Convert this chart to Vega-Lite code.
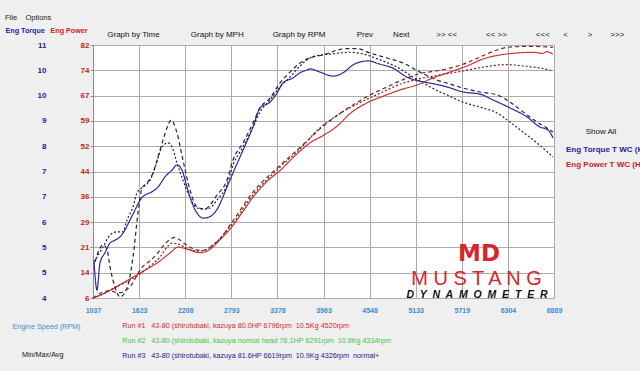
{
  "$schema": "https://vega.github.io/schema/vega-lite/v6.json",
  "width": 461,
  "height": 253,
  "autosize": {"type": "none"},
  "padding": {"left": 93, "top": 45, "right": 86, "bottom": 73},
  "background": "#efefef",
  "config": {"font": "Liberation Sans", "view": {"fill": "#ffffff", "stroke": "#9c9c9c"}, "axis": {"labelOverlap": false}},
  "title": {
    "text": "File\u00a0\u00a0\u00a0\u00a0Options",
    "subtitle": "\u200b\u00a0\u00a0\u00a0\u00a0\u00a0\u00a0\u00a0\u00a0\u00a0\u00a0\u00a0\u00a0\u00a0\u00a0\u00a0\u00a0\u00a0\u00a0\u00a0\u00a0\u00a0\u00a0\u00a0\u00a0\u00a0\u00a0\u00a0\u00a0\u00a0\u00a0\u00a0\u00a0\u00a0\u00a0\u00a0\u00a0\u00a0\u00a0\u00a0\u00a0\u00a0\u00a0\u00a0\u00a0\u00a0\u00a0Graph by Time\u00a0\u00a0\u00a0\u00a0\u00a0\u00a0\u00a0\u00a0\u00a0\u00a0\u00a0\u00a0\u00a0\u00a0Graph by MPH\u00a0\u00a0\u00a0\u00a0\u00a0\u00a0\u00a0\u00a0\u00a0\u00a0\u00a0\u00a0\u00a0Graph by RPM\u00a0\u00a0\u00a0\u00a0\u00a0\u00a0\u00a0\u00a0\u00a0\u00a0\u00a0\u00a0\u00a0\u00a0Prev\u00a0\u00a0\u00a0\u00a0\u00a0\u00a0\u00a0\u00a0\u00a0Next\u00a0\u00a0\u00a0\u00a0\u00a0\u00a0\u00a0\u00a0\u00a0\u00a0\u00a0\u00a0>> <<\u00a0\u00a0\u00a0\u00a0\u00a0\u00a0\u00a0\u00a0\u00a0\u00a0\u00a0\u00a0\u00a0<< >>\u00a0\u00a0\u00a0\u00a0\u00a0\u00a0\u00a0\u00a0\u00a0\u00a0\u00a0\u00a0\u00a0<<<\u00a0\u00a0\u00a0\u00a0\u00a0\u00a0<\u00a0\u00a0\u00a0\u00a0\u00a0\u00a0\u00a0\u00a0\u00a0>\u00a0\u00a0\u00a0\u00a0\u00a0\u00a0\u00a0\u00a0>>>",
    "anchor": "start",
    "frame": "group",
    "dx": -88,
    "dy": 13,
    "offset": 0,
    "fontSize": 7.5,
    "fontWeight": "normal",
    "color": "#222222",
    "subtitleFontSize": 8,
    "subtitleColor": "#111111",
    "subtitlePadding": 10
  },
  "datasets": {
    "torque": [
      {"run":"Run #1","rpm":1050,"v":5.00},{"run":"Run #1","rpm":1088,"v":4.22},{"run":"Run #1","rpm":1126,"v":4.97},{"run":"Run #1","rpm":1189,"v":5.25},{"run":"Run #1","rpm":1253,"v":5.52},{"run":"Run #1","rpm":1316,"v":5.60},{"run":"Run #1","rpm":1380,"v":5.69},{"run":"Run #1","rpm":1443,"v":5.88},{"run":"Run #1","rpm":1507,"v":6.16},{"run":"Run #1","rpm":1570,"v":6.43},{"run":"Run #1","rpm":1634,"v":6.71},{"run":"Run #1","rpm":1697,"v":6.85},{"run":"Run #1","rpm":1761,"v":6.91},{"run":"Run #1","rpm":1862,"v":7.07},{"run":"Run #1","rpm":1951,"v":7.35},{"run":"Run #1","rpm":2040,"v":7.54},{"run":"Run #1","rpm":2103,"v":7.68},{"run":"Run #1","rpm":2167,"v":7.54},{"run":"Run #1","rpm":2230,"v":7.07},{"run":"Run #1","rpm":2294,"v":6.63},{"run":"Run #1","rpm":2357,"v":6.35},{"run":"Run #1","rpm":2433,"v":6.21},{"run":"Run #1","rpm":2522,"v":6.25},{"run":"Run #1","rpm":2611,"v":6.45},{"run":"Run #1","rpm":2738,"v":7.07},{"run":"Run #1","rpm":2814,"v":7.46},{"run":"Run #1","rpm":2941,"v":8.09},{"run":"Run #1","rpm":3068,"v":8.73},{"run":"Run #1","rpm":3157,"v":9.26},{"run":"Run #1","rpm":3284,"v":9.42},{"run":"Run #1","rpm":3373,"v":9.67},{"run":"Run #1","rpm":3449,"v":9.95},{"run":"Run #1","rpm":3576,"v":10.09},{"run":"Run #1","rpm":3665,"v":10.23},{"run":"Run #1","rpm":3754,"v":10.31},{"run":"Run #1","rpm":3792,"v":10.34},{"run":"Run #1","rpm":3919,"v":10.25},{"run":"Run #1","rpm":4084,"v":10.14},{"run":"Run #1","rpm":4211,"v":10.23},{"run":"Run #1","rpm":4338,"v":10.45},{"run":"Run #1","rpm":4427,"v":10.53},{"run":"Run #1","rpm":4528,"v":10.56},{"run":"Run #1","rpm":4680,"v":10.47},{"run":"Run #1","rpm":4845,"v":10.36},{"run":"Run #1","rpm":5023,"v":10.11},{"run":"Run #1","rpm":5226,"v":9.98},{"run":"Run #1","rpm":5378,"v":9.92},{"run":"Run #1","rpm":5530,"v":9.84},{"run":"Run #1","rpm":5734,"v":9.70},{"run":"Run #1","rpm":5950,"v":9.64},{"run":"Run #1","rpm":6115,"v":9.48},{"run":"Run #1","rpm":6330,"v":9.26},{"run":"Run #1","rpm":6546,"v":9.01},{"run":"Run #1","rpm":6711,"v":8.73},{"run":"Run #1","rpm":6813,"v":8.65},{"run":"Run #1","rpm":6876,"v":8.43},
      {"run":"Run #2","rpm":1050,"v":5.00},{"run":"Run #2","rpm":1164,"v":5.41},{"run":"Run #2","rpm":1253,"v":5.74},{"run":"Run #2","rpm":1342,"v":5.83},{"run":"Run #2","rpm":1418,"v":5.83},{"run":"Run #2","rpm":1469,"v":6.16},{"run":"Run #2","rpm":1545,"v":6.52},{"run":"Run #2","rpm":1596,"v":6.91},{"run":"Run #2","rpm":1672,"v":7.07},{"run":"Run #2","rpm":1761,"v":7.26},{"run":"Run #2","rpm":1824,"v":7.60},{"run":"Run #2","rpm":1913,"v":8.18},{"run":"Run #2","rpm":1989,"v":8.29},{"run":"Run #2","rpm":2040,"v":8.18},{"run":"Run #2","rpm":2103,"v":7.74},{"run":"Run #2","rpm":2179,"v":7.26},{"run":"Run #2","rpm":2268,"v":6.79},{"run":"Run #2","rpm":2357,"v":6.49},{"run":"Run #2","rpm":2459,"v":6.46},{"run":"Run #2","rpm":2522,"v":6.49},{"run":"Run #2","rpm":2611,"v":6.71},{"run":"Run #2","rpm":2738,"v":7.13},{"run":"Run #2","rpm":2814,"v":7.68},{"run":"Run #2","rpm":2941,"v":8.18},{"run":"Run #2","rpm":3068,"v":8.73},{"run":"Run #2","rpm":3157,"v":9.15},{"run":"Run #2","rpm":3284,"v":9.48},{"run":"Run #2","rpm":3411,"v":9.84},{"run":"Run #2","rpm":3538,"v":10.11},{"run":"Run #2","rpm":3665,"v":10.42},{"run":"Run #2","rpm":3792,"v":10.64},{"run":"Run #2","rpm":3919,"v":10.72},{"run":"Run #2","rpm":4046,"v":10.75},{"run":"Run #2","rpm":4173,"v":10.78},{"run":"Run #2","rpm":4300,"v":10.80},{"run":"Run #2","rpm":4465,"v":10.75},{"run":"Run #2","rpm":4680,"v":10.59},{"run":"Run #2","rpm":4896,"v":10.39},{"run":"Run #2","rpm":5099,"v":10.11},{"run":"Run #2","rpm":5277,"v":9.89},{"run":"Run #2","rpm":5442,"v":9.70},{"run":"Run #2","rpm":5530,"v":9.62},{"run":"Run #2","rpm":5734,"v":9.42},{"run":"Run #2","rpm":5950,"v":9.28},{"run":"Run #2","rpm":6165,"v":9.12},{"run":"Run #2","rpm":6330,"v":8.87},{"run":"Run #2","rpm":6495,"v":8.59},{"run":"Run #2","rpm":6673,"v":8.29},{"run":"Run #2","rpm":6876,"v":7.90},
      {"run":"Run #3","rpm":1062,"v":5.00},{"run":"Run #3","rpm":1164,"v":5.47},{"run":"Run #3","rpm":1215,"v":5.33},{"run":"Run #3","rpm":1253,"v":4.86},{"run":"Run #3","rpm":1316,"v":4.30},{"run":"Run #3","rpm":1380,"v":4.03},{"run":"Run #3","rpm":1469,"v":4.28},{"run":"Run #3","rpm":1545,"v":5.13},{"run":"Run #3","rpm":1608,"v":6.35},{"run":"Run #3","rpm":1659,"v":7.04},{"run":"Run #3","rpm":1722,"v":7.18},{"run":"Run #3","rpm":1799,"v":7.46},{"run":"Run #3","rpm":1862,"v":7.90},{"run":"Run #3","rpm":1926,"v":8.37},{"run":"Run #3","rpm":1976,"v":8.70},{"run":"Run #3","rpm":2027,"v":8.92},{"run":"Run #3","rpm":2103,"v":8.57},{"run":"Run #3","rpm":2179,"v":7.82},{"run":"Run #3","rpm":2268,"v":6.99},{"run":"Run #3","rpm":2357,"v":6.52},{"run":"Run #3","rpm":2459,"v":6.46},{"run":"Run #3","rpm":2522,"v":6.57},{"run":"Run #3","rpm":2611,"v":6.85},{"run":"Run #3","rpm":2738,"v":7.26},{"run":"Run #3","rpm":2814,"v":7.82},{"run":"Run #3","rpm":2941,"v":8.29},{"run":"Run #3","rpm":3068,"v":8.84},{"run":"Run #3","rpm":3157,"v":9.26},{"run":"Run #3","rpm":3284,"v":9.53},{"run":"Run #3","rpm":3411,"v":9.95},{"run":"Run #3","rpm":3538,"v":10.25},{"run":"Run #3","rpm":3665,"v":10.50},{"run":"Run #3","rpm":3830,"v":10.67},{"run":"Run #3","rpm":3957,"v":10.72},{"run":"Run #3","rpm":4109,"v":10.84},{"run":"Run #3","rpm":4261,"v":10.90},{"run":"Run #3","rpm":4388,"v":10.90},{"run":"Run #3","rpm":4553,"v":10.78},{"run":"Run #3","rpm":4769,"v":10.64},{"run":"Run #3","rpm":4972,"v":10.50},{"run":"Run #3","rpm":5188,"v":10.25},{"run":"Run #3","rpm":5404,"v":10.03},{"run":"Run #3","rpm":5569,"v":9.92},{"run":"Run #3","rpm":5734,"v":9.81},{"run":"Run #3","rpm":5950,"v":9.70},{"run":"Run #3","rpm":6165,"v":9.62},{"run":"Run #3","rpm":6330,"v":9.42},{"run":"Run #3","rpm":6495,"v":9.15},{"run":"Run #3","rpm":6673,"v":8.87},{"run":"Run #3","rpm":6800,"v":8.70},{"run":"Run #3","rpm":6876,"v":8.59}
    ],
    "power": [
      {"run":"Run #1","rpm":1037,"v":6.0},{"run":"Run #1","rpm":1215,"v":7.8},{"run":"Run #1","rpm":1418,"v":10.5},{"run":"Run #1","rpm":1634,"v":13.5},{"run":"Run #1","rpm":1849,"v":16.5},{"run":"Run #1","rpm":2014,"v":19.5},{"run":"Run #1","rpm":2116,"v":21.3},{"run":"Run #1","rpm":2230,"v":20.7},{"run":"Run #1","rpm":2395,"v":19.6},{"run":"Run #1","rpm":2522,"v":20.6},{"run":"Run #1","rpm":2611,"v":22.6},{"run":"Run #1","rpm":2814,"v":27.8},{"run":"Run #1","rpm":2941,"v":32.0},{"run":"Run #1","rpm":3068,"v":36.3},{"run":"Run #1","rpm":3246,"v":41.0},{"run":"Run #1","rpm":3411,"v":44.3},{"run":"Run #1","rpm":3627,"v":49.3},{"run":"Run #1","rpm":3792,"v":52.6},{"run":"Run #1","rpm":3957,"v":54.8},{"run":"Run #1","rpm":4135,"v":57.6},{"run":"Run #1","rpm":4300,"v":61.4},{"run":"Run #1","rpm":4515,"v":64.6},{"run":"Run #1","rpm":4718,"v":66.6},{"run":"Run #1","rpm":4934,"v":68.5},{"run":"Run #1","rpm":5150,"v":70.0},{"run":"Run #1","rpm":5353,"v":72.1},{"run":"Run #1","rpm":5569,"v":73.9},{"run":"Run #1","rpm":5785,"v":75.7},{"run":"Run #1","rpm":5988,"v":77.8},{"run":"Run #1","rpm":6204,"v":79.0},{"run":"Run #1","rpm":6419,"v":79.6},{"run":"Run #1","rpm":6622,"v":79.8},{"run":"Run #1","rpm":6749,"v":79.5},{"run":"Run #1","rpm":6796,"v":80.0},{"run":"Run #1","rpm":6876,"v":79.2},
      {"run":"Run #2","rpm":1037,"v":6.0},{"run":"Run #2","rpm":1164,"v":7.2},{"run":"Run #2","rpm":1253,"v":8.4},{"run":"Run #2","rpm":1380,"v":9.9},{"run":"Run #2","rpm":1507,"v":11.4},{"run":"Run #2","rpm":1634,"v":13.2},{"run":"Run #2","rpm":1761,"v":15.6},{"run":"Run #2","rpm":1888,"v":18.3},{"run":"Run #2","rpm":1989,"v":21.6},{"run":"Run #2","rpm":2040,"v":22.5},{"run":"Run #2","rpm":2116,"v":22.2},{"run":"Run #2","rpm":2230,"v":21.0},{"run":"Run #2","rpm":2357,"v":20.1},{"run":"Run #2","rpm":2459,"v":20.4},{"run":"Run #2","rpm":2586,"v":22.5},{"run":"Run #2","rpm":2814,"v":28.5},{"run":"Run #2","rpm":3068,"v":37.0},{"run":"Run #2","rpm":3411,"v":45.3},{"run":"Run #2","rpm":3665,"v":50.8},{"run":"Run #2","rpm":3919,"v":57.1},{"run":"Run #2","rpm":4173,"v":61.4},{"run":"Run #2","rpm":4427,"v":64.7},{"run":"Run #2","rpm":4680,"v":67.5},{"run":"Run #2","rpm":4934,"v":70.2},{"run":"Run #2","rpm":5188,"v":71.9},{"run":"Run #2","rpm":5442,"v":73.0},{"run":"Run #2","rpm":5734,"v":74.2},{"run":"Run #2","rpm":5950,"v":75.2},{"run":"Run #2","rpm":6292,"v":76.1},{"run":"Run #2","rpm":6495,"v":75.7},{"run":"Run #2","rpm":6711,"v":75.1},{"run":"Run #2","rpm":6876,"v":74.2},
      {"run":"Run #3","rpm":1037,"v":6.0},{"run":"Run #3","rpm":1164,"v":7.8},{"run":"Run #3","rpm":1253,"v":8.2},{"run":"Run #3","rpm":1316,"v":7.8},{"run":"Run #3","rpm":1380,"v":7.6},{"run":"Run #3","rpm":1469,"v":8.6},{"run":"Run #3","rpm":1545,"v":10.6},{"run":"Run #3","rpm":1608,"v":13.4},{"run":"Run #3","rpm":1672,"v":15.5},{"run":"Run #3","rpm":1761,"v":17.2},{"run":"Run #3","rpm":1849,"v":19.2},{"run":"Run #3","rpm":1926,"v":21.6},{"run":"Run #3","rpm":2014,"v":23.6},{"run":"Run #3","rpm":2078,"v":24.2},{"run":"Run #3","rpm":2141,"v":23.4},{"run":"Run #3","rpm":2230,"v":21.8},{"run":"Run #3","rpm":2332,"v":20.6},{"run":"Run #3","rpm":2433,"v":20.3},{"run":"Run #3","rpm":2522,"v":21.2},{"run":"Run #3","rpm":2649,"v":23.8},{"run":"Run #3","rpm":2814,"v":29.2},{"run":"Run #3","rpm":3068,"v":37.8},{"run":"Run #3","rpm":3411,"v":45.8},{"run":"Run #3","rpm":3665,"v":51.2},{"run":"Run #3","rpm":3919,"v":56.8},{"run":"Run #3","rpm":4173,"v":61.5},{"run":"Run #3","rpm":4338,"v":64.0},{"run":"Run #3","rpm":4553,"v":67.0},{"run":"Run #3","rpm":4769,"v":69.4},{"run":"Run #3","rpm":4972,"v":71.6},{"run":"Run #3","rpm":5188,"v":73.4},{"run":"Run #3","rpm":5442,"v":74.4},{"run":"Run #3","rpm":5734,"v":76.2},{"run":"Run #3","rpm":5950,"v":78.4},{"run":"Run #3","rpm":6165,"v":80.5},{"run":"Run #3","rpm":6292,"v":81.3},{"run":"Run #3","rpm":6584,"v":81.6},{"run":"Run #3","rpm":6876,"v":81.3}
    ]
  },
  "layer": [
    {
      "data": {"name": "torque"},
      "mark": {"type": "line", "strokeWidth": 1.2, "interpolate": "monotone"},
      "encoding": {
        "x": {
          "field": "rpm", "type": "quantitative",
          "scale": {"domain": [1037, 6889], "nice": false, "zero": false},
          "axis": {
            "values": [1037, 1623, 2208, 2793, 3378, 3963, 4548, 5133, 5719, 6304, 6889],
            "format": "d", "grid": true, "gridColor": "#a9a9a9", "domain": false, "ticks": false,
            "labelPadding": 8, "labelFontSize": 7, "labelFontWeight": "bold", "labelColor": "#3a8bd2",
            "labelFlush": false, "labelOverlap": false,
            "title": "Engine Speed (RPM)", "titleFontSize": 7.2, "titleFontWeight": "normal", "titleColor": "#3a8bd2",
            "titleX": -81, "titleY": 28, "titleAlign": "left", "titleBaseline": "middle"
          }
        },
        "y": {
          "field": "v", "type": "quantitative",
          "scale": {"domain": [4, 11], "nice": false, "zero": false},
          "axis": {
            "orient": "left", "offset": 45,
            "values": [4, 4.7, 5.4, 6.1, 6.8, 7.5, 8.2, 8.9, 9.6, 10.3, 11],
            "labelExpr": "format(datum.value - 0.01, '.0f')", "labelOverlap": false,
            "grid": false, "domain": false, "ticks": false, "labelPadding": 2,
            "labelFontSize": 8, "labelFontWeight": "bold", "labelColor": "#23238c",
            "title": "Eng Torque", "titleAngle": 0, "titleAlign": "left", "titleBaseline": "middle",
            "titleX": -43, "titleY": -15, "titleFontSize": 7.2, "titleFontWeight": "bold", "titleColor": "#1c1ca6"
          }
        },
        "color": {
          "field": "run", "type": "nominal",
          "scale": {"domain": ["Run #1", "Run #2", "Run #3"], "range": ["#2a2a9c", "#20204c", "#20204c"]},
          "legend": null
        },
        "strokeDash": {
          "field": "run", "type": "nominal",
          "scale": {"domain": ["Run #1", "Run #2", "Run #3"], "range": [[1, 0], [2, 2], [4, 3]]},
          "legend": {
            "orient": "none", "legendX": -71, "legendY": 277, "direction": "vertical",
            "title": "Min/Max/Avg", "titleOrient": "left", "titleAnchor": "end",
            "titleFontSize": 7.2, "titleFontWeight": "normal", "titleColor": "#111111", "titlePadding": 51,
            "labelFontSize": 7.2, "labelLimit": 600, "labelOffset": 0,
            "labelExpr": "datum.value === 'Run #1' ? 'Run #1\u00a0\u00a0\u00a043-80 (shirotubaki, kazuya\u00a080.0HP 6796rpm\u00a0\u00a010.5Kg 4520rpm' : (datum.value === 'Run #2' ? 'Run #2\u00a0\u00a0\u00a043-80 (shirotubaki, kazuya\u00a0normal head 76.1HP 6291rpm\u00a0\u00a010.8Kg 4334rpm' : 'Run #3\u00a0\u00a0\u00a043-80 (shirotubaki, kazuya\u00a081.6HP 6619rpm\u00a0\u00a010.9Kg 4326rpm\u00a0\u00a0normal+')",
            "symbolType": "stroke", "symbolSize": 49, "symbolStrokeWidth": 0, "rowPadding": 7, "padding": 0,
            "encode": {"labels": {"update": {"fill": {"signal": "datum.value === 'Run #1' ? '#d42a2a' : (datum.value === 'Run #2' ? '#3dc63d' : '#1c1c90')"}}}}
          }
        },
        "opacity": {
          "datum": "Eng Torque T WC (H", "type": "nominal",
          "scale": {"domain": ["Eng Torque T WC (H", "Eng Power T WC (H"], "range": [1, 1]},
          "legend": {
            "orient": "none", "legendX": 465, "legendY": 83,
            "title": "Show All", "titleFontSize": 8, "titleFontWeight": "normal", "titleColor": "#111111",
            "titleAnchor": "middle", "titlePadding": 10,
            "labelFontSize": 8, "labelFontWeight": "bold", "labelLimit": 200, "labelOffset": 0,
            "symbolType": "stroke", "symbolSize": 1, "symbolStrokeWidth": 0, "rowPadding": 7, "padding": 0,
            "encode": {"labels": {"update": {"fill": {"signal": "indexof(datum.value, 'Torque') >= 0 ? '#1c1c9c' : '#c42424'"}}}}
          }
        }
      }
    },
    {
      "data": {"name": "power"},
      "mark": {"type": "line", "strokeWidth": 1.2, "interpolate": "monotone"},
      "encoding": {
        "x": {"field": "rpm", "type": "quantitative"},
        "y": {
          "field": "v", "type": "quantitative",
          "scale": {"domain": [6, 82], "nice": false, "zero": false},
          "axis": {
            "orient": "left", "offset": 0,
            "values": [6, 13.6, 21.2, 28.8, 36.4, 44, 51.6, 59.2, 66.8, 74.4, 82],
            "format": ".0f", "labelOverlap": false, "grid": true, "gridColor": "#adadad",
            "domain": true, "domainColor": "#8c8c8c", "ticks": true, "tickSize": 3, "tickColor": "#8c8c8c",
            "labelPadding": 1, "labelFontSize": 8, "labelFontWeight": "bold", "labelColor": "#bb2626",
            "title": "Eng Power", "titleAngle": 0, "titleAlign": "left", "titleBaseline": "middle",
            "titleX": -43, "titleY": -15, "titleFontSize": 7.2, "titleFontWeight": "bold", "titleColor": "#cc2020"
          }
        },
        "color": {
          "field": "run", "type": "nominal",
          "scale": {"domain": ["Run #1", "Run #2", "Run #3"], "range": ["#c8352e", "#7a2222", "#7a2222"]},
          "legend": null
        },
        "strokeDash": {"field": "run", "type": "nominal"},
        "opacity": {"datum": "Eng Power T WC (H", "type": "nominal"}
      }
    },
    {
      "data": {"values": [{}]},
      "mark": {"type": "text", "text": "MD", "font": "DejaVu Sans", "fontWeight": "bold", "fontSize": 23, "color": "#d6262a", "baseline": "alphabetic", "align": "center"},
      "encoding": {"x": {"datum": 5937, "type": "quantitative"}, "y": {"datum": 17.0, "type": "quantitative", "scale": {"domain": [6, 82], "nice": false, "zero": false}, "axis": null}}
    },
    {
      "data": {"values": [{}]},
      "mark": {"type": "text", "text": "M U S T A N G", "fontSize": 20, "color": "#d6262a", "baseline": "alphabetic", "align": "center"},
      "encoding": {"x": {"datum": 5905, "type": "quantitative"}, "y": {"datum": 9.9, "type": "quantitative", "scale": {"domain": [6, 82], "nice": false, "zero": false}, "axis": null}}
    },
    {
      "data": {"values": [{}]},
      "mark": {"type": "text", "text": "D\u00a0 Y\u00a0 N\u00a0 A\u00a0 M\u00a0 O\u00a0 M\u00a0 E\u00a0 T\u00a0 E\u00a0 R", "fontSize": 10.5, "fontWeight": "bold", "fontStyle": "italic", "color": "#111111", "baseline": "alphabetic", "align": "center", "clip": false},
      "encoding": {"x": {"datum": 5912, "type": "quantitative"}, "y": {"datum": 5.9, "type": "quantitative", "scale": {"domain": [6, 82], "nice": false, "zero": false}, "axis": null}}
    }
  ],
  "resolve": {"scale": {"y": "independent", "color": "independent"}}
}
